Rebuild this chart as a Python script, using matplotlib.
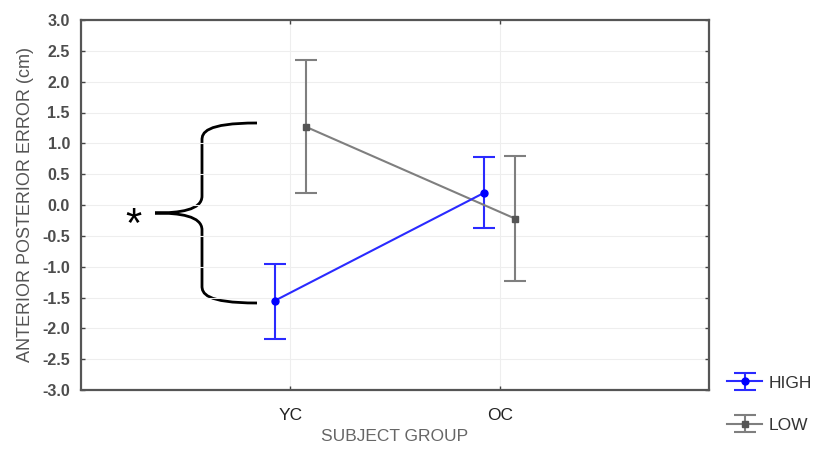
import matplotlib
matplotlib.use("Agg")
import matplotlib.pyplot as plt
from matplotlib.path import Path
from matplotlib.patches import PathPatch
import numpy as np

plt.rcParams['font.family'] = ['Liberation Sans', 'DejaVu Sans']

groups = ["YC", "OC"]
high_mean = [-1.55, 0.20]
high_upper = [-0.95, 0.78]
high_lower = [-2.17, -0.37]
low_mean = [1.27, -0.22]
low_upper = [2.35, 0.80]
low_lower = [0.20, -1.23]
yticks = [3.0, 2.5, 2.0, 1.5, 1.0, 0.5, 0.0, -0.5, -1.0, -1.5, -2.0, -2.5, -3.0]

fig = plt.figure(figsize=(8.2, 4.51), dpi=100)
ax = fig.add_axes([81/820, 1-390/451, (709-81)/820, (390-20)/451])

xpos = np.arange(1, len(groups)+1)
off = 0.073
blue = '#2a2aff'
gray = '#7f7f7f'

hm = np.array(high_mean); lm = np.array(low_mean)
herr = [hm - np.array(high_lower), np.array(high_upper) - hm]
lerr = [lm - np.array(low_lower), np.array(low_upper) - lm]

ax.errorbar(xpos + off, lm, yerr=lerr, color=gray, ecolor=gray, marker='s',
            markersize=5, markerfacecolor='#555555', markeredgecolor='#555555',
            capsize=8, elinewidth=1.5, capthick=1.5, lw=1.5, label='LOW')
ax.errorbar(xpos - off, hm, yerr=herr, color=blue, ecolor=blue, marker='o',
            markersize=5, markerfacecolor='#0000ff', markeredgecolor='#0000ff',
            capsize=8, elinewidth=1.5, capthick=1.5, lw=1.5, label='HIGH')

ax.set_xlim(0, 3)
ax.set_ylim(-3, 3)
ax.set_yticks(yticks)
ax.set_yticklabels([f"{v:.1f}" for v in yticks], color='#4d4d4d', fontsize=11.5,
                   fontweight='bold')
ax.set_xticks(xpos)
ax.set_xticklabels(groups, fontsize=12.5, color='#222222')
ax.tick_params(direction='in', length=3, width=1, color='#444444', top=True, right=True)
ax.tick_params(axis='x', pad=13)
ax.tick_params(axis='y', pad=8)
ax.grid(True, color='#eeeeee', lw=0.8)
for s in ax.spines.values():
    s.set_color('#555555')
    s.set_linewidth(1.6)

ax.set_ylabel("ANTERIOR POSTERIOR ERROR (cm)", color='#555555', fontsize=13, labelpad=6)
ax.set_xlabel("SUBJECT GROUP", color='#666666', fontsize=12.5, labelpad=4)

# curly brace annotation (pixel -> data helpers)
def px(x):
    return (x - 81) / 628 * 3
def py(y):
    return 3 - (y - 20) / (370 / 6)

verts = [
    (px(257), py(123)), (px(205), py(123)), (px(202), py(133)), (px(202), py(140)),
    (px(202), py(196)),
    (px(202), py(210)), (px(180), py(213)), (px(155), py(213)),
    (px(180), py(213)), (px(202), py(216)), (px(202), py(230)),
    (px(202), py(286)),
    (px(202), py(293)), (px(205), py(303)), (px(257), py(303)),
]
codes = [Path.MOVETO, Path.CURVE4, Path.CURVE4, Path.CURVE4,
         Path.LINETO,
         Path.CURVE4, Path.CURVE4, Path.CURVE4,
         Path.CURVE4, Path.CURVE4, Path.CURVE4,
         Path.LINETO,
         Path.CURVE4, Path.CURVE4, Path.CURVE4]
ax.add_patch(PathPatch(Path(verts, codes), facecolor='none', edgecolor='black', lw=2))
ax.text(px(133), py(226), "*", fontsize=30, ha='center', va='center', color='black')

handles, labels = ax.get_legend_handles_labels()
order = [1, 0]
leg = fig.legend([handles[i] for i in order], [labels[i] for i in order],
                 loc='center left', bbox_to_anchor=(722/820, 1-404/451), frameon=False,
                 fontsize=12.5, labelspacing=1.55, handlelength=2.0, handletextpad=0.4,
                 borderpad=0.3, borderaxespad=0.0, labelcolor='#333333')

fig.savefig("out.png", dpi=100)
